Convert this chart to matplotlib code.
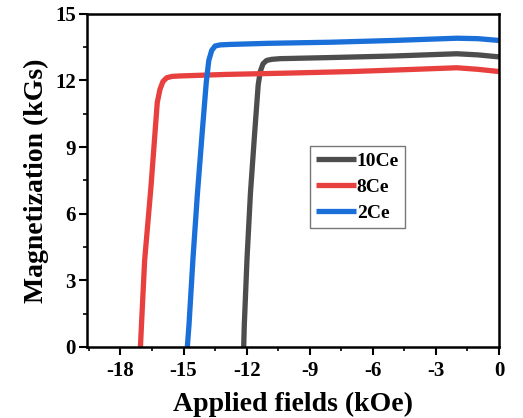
import matplotlib
matplotlib.use("Agg")
import matplotlib.pyplot as plt
from matplotlib.ticker import MultipleLocator

plt.rcParams['font.family'] = ['Liberation Serif', 'DejaVu Serif']
plt.rcParams['font.weight'] = 'bold'
plt.rcParams['axes.unicode_minus'] = False

# 10Ce (gray)
H_10Ce = [-12.14, -12.11, -11.98, -11.82, -11.62, -11.45, -11.35, -11.22, -11.05, -10.8, -10.4, -8, -5, -2, -1, 0]
M_10Ce = [0, 1, 4, 6.9, 9.6, 11.8, 12.4, 12.75, 12.9, 12.95, 12.98, 13.03, 13.1, 13.2, 13.15, 13.06]
# 8Ce (red)
H_8Ce = [-17.05, -17.0, -16.85, -16.55, -16.25, -16.12, -15.98, -15.8, -15.55, -15.2, -13, -10, -7, -4, -2, -1, 0]
M_8Ce = [0, 1.0, 3.9, 7.2, 11.0, 11.6, 11.95, 12.12, 12.18, 12.2, 12.27, 12.33, 12.4, 12.5, 12.57, 12.5, 12.4]
# 2Ce (blue)
H_2Ce = [-14.82, -14.74, -14.55, -14.34, -14.1, -13.92, -13.8, -13.66, -13.5, -13.25, -12.8, -11, -8, -5, -2, -1, 0]
M_2Ce = [0, 1, 4, 6.9, 9.8, 11.9, 12.9, 13.35, 13.55, 13.6, 13.62, 13.67, 13.72, 13.8, 13.9, 13.88, 13.8]

labels = ['10Ce', '8Ce', '2Ce']
colors = ['#4d4d4d', '#e8403f', '#1a6fd9']

fig = plt.figure(figsize=(5.23, 4.18), dpi=100)
ax = fig.add_axes([0.166, 0.170, 0.788, 0.797])

for H, M, lab, c in zip([H_10Ce, H_8Ce, H_2Ce], [M_10Ce, M_8Ce, M_2Ce], labels, colors):
    ax.plot(H, M, color=c, lw=3.8, label=lab, solid_capstyle='butt', solid_joinstyle='round')

ax.set_xlim(-19.6, 0)
ax.set_ylim(0, 15)
ax.xaxis.set_major_locator(MultipleLocator(3))
ax.xaxis.set_minor_locator(MultipleLocator(1.5))
ax.yaxis.set_major_locator(MultipleLocator(3))
ax.yaxis.set_minor_locator(MultipleLocator(1.5))
ax.tick_params(which='major', direction='out', length=6, width=1.5, labelsize=15)
ax.tick_params(axis='x', which='major', pad=4)
ax.tick_params(axis='y', which='major', pad=2)
ax.tick_params(which='minor', direction='out', length=3, width=1.2)
for s in ax.spines.values():
    s.set_linewidth(1.8)
for lbl in ax.get_xticklabels() + ax.get_yticklabels():
    lbl.set_fontweight('bold')

ax.set_xlabel('Applied fields (kOe)', fontsize=20, fontweight='bold', labelpad=8)
ax.set_ylabel('Magnetization (kGs)', fontsize=20, fontweight='bold', labelpad=4)

leg = ax.legend(loc='upper left', bbox_to_anchor=(0.541, 0.604), fontsize=14,
                handlelength=2.05, handletextpad=0.05, borderpad=0.32, labelspacing=0.45,
                frameon=True, fancybox=False, edgecolor='#555555', borderaxespad=0)
leg.get_frame().set_linewidth(1.0)
for t in leg.get_texts():
    t.set_fontweight('bold')

fig.savefig('out.png', dpi=100)
